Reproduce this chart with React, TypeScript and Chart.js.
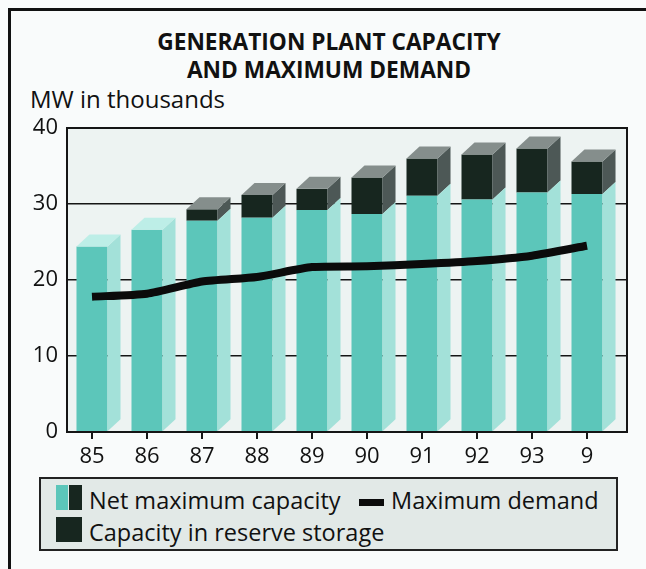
import React, { useEffect, useRef } from "react";
import { Chart, registerables } from "chart.js";

Chart.register(...registerables);

const years = ["85", "86", "87", "88", "89", "90", "91", "92", "93", "9"];
const netCapacity = [24.4, 26.6, 27.8, 28.2, 29.2, 28.7, 31.1, 30.6, 31.5, 31.3];
const reserveCapacity = [0, 0, 1.5, 3.0, 2.8, 4.8, 4.9, 5.9, 5.8, 4.3];
const maxDemand = [17.8, 18.2, 19.8, 20.4, 21.7, 21.8, 22.1, 22.5, 23.2, 24.5];
const yTicks = [0, 10, 20, 30, 40];

const FONT = "'Open Sans', 'Noto Sans', sans-serif";
const TEAL = "#5cc6ba";
const TEAL_SIDE = "#a3e1d9";
const TEAL_TOP = "#bdeee7";
const DARK = "#17261f";
const DARK_SIDE = "#4d5856";
const DARK_TOP = "#858e8c";

const DX = 13;
const DY = 12;

const bar3d = {
  id: "bar3d",
  beforeDraw(chart: any) {
    const { ctx, chartArea: a } = chart;
    ctx.save();
    ctx.fillStyle = "#edf3f2";
    ctx.fillRect(a.left, a.top, a.right - a.left, a.bottom - a.top);
    ctx.restore();
  },
  afterDatasetDraw(chart: any, args: any) {
    const meta = args.meta;
    if (meta.type !== "bar") return;
    const ds = chart.data.datasets[args.index];
    const isNet = ds.label === "Net maximum capacity";
    const { ctx } = chart;
    ctx.save();
    meta.data.forEach((el: any, i: number) => {
      const { x, y, base, width } = el.getProps(["x", "y", "base", "width"], true);
      const top = Math.min(y, base);
      const bottom = Math.max(y, base);
      if (bottom - top < 0.5) return;
      const left = x - width / 2;
      const right = x + width / 2;
      ctx.fillStyle = isNet ? TEAL_SIDE : DARK_SIDE;
      ctx.beginPath();
      ctx.moveTo(right, bottom);
      ctx.lineTo(right, top);
      ctx.lineTo(right + DX, top - DY);
      ctx.lineTo(right + DX, bottom - DY);
      ctx.closePath();
      ctx.fill();
      const topmost = isNet ? reserveCapacity[i] === 0 : reserveCapacity[i] > 0;
      if (topmost) {
        ctx.fillStyle = isNet ? TEAL_TOP : DARK_TOP;
        ctx.beginPath();
        ctx.moveTo(left, top);
        ctx.lineTo(left + DX, top - DY);
        ctx.lineTo(right + DX, top - DY);
        ctx.lineTo(right, top);
        ctx.closePath();
        ctx.fill();
      }
    });
    ctx.restore();
  },
  afterDraw(chart: any) {
    const { ctx, chartArea: a } = chart;
    ctx.save();
    ctx.strokeStyle = "#151515";
    ctx.lineWidth = 2;
    ctx.strokeRect(a.left, a.top, a.right - a.left, a.bottom - a.top);
    ctx.restore();
  },
};

function ChartCanvas() {
  const ref = useRef<HTMLCanvasElement | null>(null);
  useEffect(() => {
    if (!ref.current) return;
    const chart = new Chart(ref.current, {
      type: "bar",
      data: {
        datasets: [
          {
            type: "line",
            label: "Maximum demand",
            data: years.map((_, i) => ({ x: i, y: maxDemand[i] })),
            borderColor: "#0b0b0b",
            borderWidth: 8,
            pointRadius: 0,
            tension: 0.2,
            stack: "demand",
            order: 0,
          } as any,
          {
            type: "bar",
            label: "Net maximum capacity",
            data: years.map((_, i) => ({ x: i, y: netCapacity[i] })),
            backgroundColor: TEAL,
            borderWidth: 0,
            stack: "cap",
            order: 1,
            categoryPercentage: 1,
            barPercentage: 0.564,
          } as any,
          {
            type: "bar",
            label: "Capacity in reserve storage",
            data: years.map((_, i) => ({ x: i, y: reserveCapacity[i] })),
            backgroundColor: DARK,
            borderWidth: 0,
            stack: "cap",
            order: 2,
            categoryPercentage: 1,
            barPercentage: 0.564,
          } as any,
        ],
      },
      options: {
        animation: false,
        responsive: false,
        devicePixelRatio: 1,
        layout: { padding: { left: 0, top: 128, right: 19, bottom: 0 } },
        plugins: {
          legend: { display: false },
          title: { display: false },
          tooltip: { enabled: false },
        },
        scales: {
          x: {
            type: "linear",
            min: -0.4545,
            max: 9.727,
            offset: false,
            stacked: true,
            afterBuildTicks: (scale: any) => {
              scale.ticks = years.map((_, i) => ({ value: i }));
            },
            afterFit: (scale: any) => {
              scale.height = 137;
            },
            grid: {
              display: true,
              offset: false,
              drawOnChartArea: false,
              drawTicks: true,
              tickLength: 7,
              color: "#151515",
              lineWidth: 2,
            },
            border: { display: true, color: "#151515", width: 2 },
            ticks: {
              padding: 5,
              color: "#111",
              font: { family: FONT, size: 22 },
              maxRotation: 0,
              autoSkip: false,
              callback: (v: any) => years[v as number] ?? "",
            },
          },
          y: {
            min: 0,
            max: 40,
            stacked: true,
            afterBuildTicks: (scale: any) => {
              scale.ticks = yTicks.map((v) => ({ value: v }));
            },
            afterFit: (scale: any) => {
              scale.width = 67;
            },
            grid: {
              drawTicks: false,
              color: "#151515",
              lineWidth: 1.5,
            },
            border: { display: true, color: "#151515", width: 2 },
            ticks: {
              padding: 9,
              color: "#111",
              font: { family: FONT, size: 22 },
            },
          },
        },
      },
      plugins: [bar3d],
    } as any);
    return () => chart.destroy();
  }, []);
  return (
    <canvas
      ref={ref}
      width={646}
      height={569}
      style={{ position: "absolute", left: 0, top: 0, width: 646, height: 569 }}
    />
  );
}

export default function App() {
  const text: React.CSSProperties = {
    position: "absolute",
    fontFamily: FONT,
    color: "#111",
    whiteSpace: "nowrap",
  };
  return (
    <div
      style={{
        position: "absolute",
        left: 0,
        top: 0,
        width: 646,
        height: 569,
        background: "#f9fbfb",
        overflow: "hidden",
      }}
    >
      <div
        style={{
          position: "absolute",
          left: 8,
          top: 8,
          width: 700,
          height: 700,
          borderTop: "3px solid #111",
          borderLeft: "3px solid #111",
        }}
      />
      <div
        style={{
          ...text,
          left: 0,
          width: 658,
          top: 27.5,
          textAlign: "center",
          fontWeight: 700,
          fontSize: 22.7,
          lineHeight: "28px",
        }}
      >
        GENERATION PLANT CAPACITY
        <br />
        AND MAXIMUM DEMAND
      </div>
      <div style={{ ...text, left: 30, top: 86.7, fontSize: 24, lineHeight: "24px" }}>
        MW in thousands
      </div>
      <ChartCanvas />
      <div
        style={{
          position: "absolute",
          left: 39,
          top: 477,
          width: 579,
          height: 74,
          boxSizing: "border-box",
          border: "2px solid #222",
          background: "#e2e9e7",
        }}
      />
      <div style={{ position: "absolute", left: 56, top: 485, width: 12, height: 25, background: TEAL }} />
      <div style={{ position: "absolute", left: 69, top: 485, width: 13, height: 25, background: DARK }} />
      <div style={{ position: "absolute", left: 56, top: 517, width: 26, height: 25, background: DARK }} />
      <div style={{ position: "absolute", left: 359, top: 499, width: 25, height: 7, background: "#0b0b0b" }} />
      <div style={{ ...text, left: 89, top: 489.2, fontSize: 23.5, lineHeight: "23.5px" }}>
        Net maximum capacity
      </div>
      <div style={{ ...text, left: 391, top: 489.2, fontSize: 23.5, lineHeight: "23.5px" }}>
        Maximum demand
      </div>
      <div style={{ ...text, left: 89, top: 521.2, fontSize: 23.5, lineHeight: "23.5px" }}>
        Capacity in reserve storage
      </div>
    </div>
  );
}
